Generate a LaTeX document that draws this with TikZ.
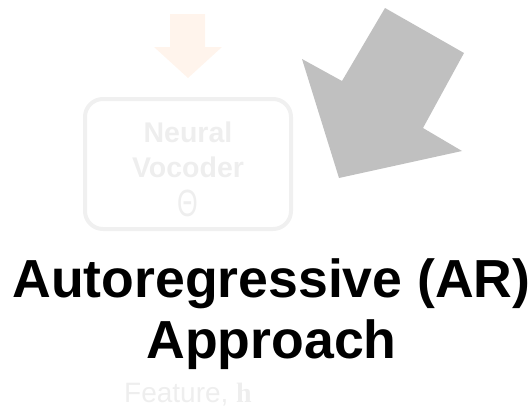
\documentclass[tikz,border=0pt]{standalone}
\usepackage{fontspec}
\setmainfont{Liberation Sans}
\newfontfamily\serifbold{Liberation Serif}
\definecolor{faintgrey}{HTML}{EEEEEE}
\definecolor{boxgrey}{HTML}{F0F0F0}
\definecolor{paleorange}{HTML}{FFF4EC}
\definecolor{arrowgrey}{HTML}{C0C0C0}
\begin{document}
\begin{tikzpicture}[x=1pt,y=-1pt,
  faded/.style={text=faintgrey,inner sep=0pt,anchor=base},
  title/.style={inner sep=0pt,anchor=base,font=\fontsize{53.6}{60}\selectfont\bfseries}]
\useasboundingbox (0,0) rectangle (530,407);

% faded input arrow into the vocoder
\fill[paleorange] (170,14) -- (205,14) -- (205,47) -- (222,47) -- (188,78)
  -- (154,47) -- (170,47) -- cycle;

% faded vocoder block
\node[draw=boxgrey,line width=4pt,rounded corners=18pt,minimum width=206pt,
  minimum height=130pt,inner sep=0pt] (vocoder) at (188,164) {};
\node[faded,font=\fontsize{28.5}{30}\selectfont\bfseries] (neural) at (188,142) {Neural};
\node[faded,font=\fontsize{28.5}{30}\selectfont\bfseries] (voc) at (188,177) {Vocoder};
\node[faded,font=\fontsize{38}{40}\selectfont] (theta) at (188,216) {\scalebox{0.7}[1]{Θ}};

% large grey arrow pointing down-left
\fill[arrowgrey] (385,8) -- (464,53) -- (423,128) -- (462,151) -- (339,178)
  -- (302,59) -- (342,81) -- cycle;

% heading
\node[title] (line1) at (271.5,297) {Autoregressive (AR)};
\node[title] (line2) at (271.5,358) {Approach};

% faded feature label
\node[faded,font=\fontsize{28}{30}\selectfont] (feature) at (188,402)
  {Feature, {\serifbold\bfseries h}};
\end{tikzpicture}
\end{document}
